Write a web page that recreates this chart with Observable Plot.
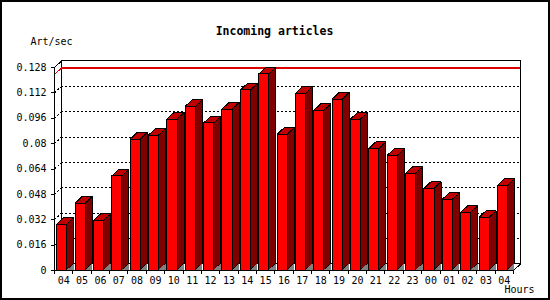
<!DOCTYPE html>
<html>
<head>
<meta charset="utf-8">
<script src="https://cdn.jsdelivr.net/npm/d3@7"></script>
<script src="https://cdn.jsdelivr.net/npm/@observablehq/plot@0.6"></script>
<style>
  html, body { margin: 0; padding: 0; background: #fff; }
</style>
</head>
<body>
<div id="chart"></div>
<script>
const title = "Incoming articles";
const yLabel = "Art/sec";
const xLabel = "Hours";
const hours = ["04","05","06","07","08","09","10","11","12","13","14","15","16","17","18","19","20","21","22","23","00","01","02","03","04"];
const values = [0.029,0.0422,0.0313,0.0593,0.0826,0.0851,0.0952,0.1032,0.0927,0.1015,0.1135,0.1236,0.0856,0.1114,0.1007,0.1078,0.0952,0.0767,0.0723,0.061,0.0515,0.0446,0.0364,0.0332,0.0534];
const yTicks = [0, 0.016, 0.032, 0.048, 0.064, 0.08, 0.096, 0.112, 0.128];
const yTickLabels = ["0", "0.016", "0.032", "0.048", "0.064", "0.08", "0.096", "0.112", "0.128"];

const W = 550, H = 300;
const mL = 54, mR = 37, mT = 67, mB = 30;
const n = hours.length;
const yMax = yTicks[yTicks.length - 1];
const pxPerX = (W - mL - mR) / n;
const pxPerY = (H - mT - mB) / yMax;
const DXd = 7 / pxPerX;      // depth in x data units
const DYd = 6.5 / pxPerY;    // depth in y data units
const FL = 0.15, FR = 0.70;  // front face offsets inside a category

const bars = values.map((v, i) => ({i, v, L: i + FL, R: i + FR}));
const sidePts = bars.flatMap(b => [
  {z: b.i, x: b.R, y1: 0, y2: b.v},
  {z: b.i, x: b.R + DXd, y1: DYd, y2: b.v + DYd}
]);
const topPts = bars.flatMap(b => [
  {z: b.i, y: b.v, x1: b.L, x2: b.R},
  {z: b.i, y: b.v + DYd, x1: b.L + DXd, x2: b.R + DXd}
]);
const floorPts = bars.flatMap(b => [
  {z: b.i, x: b.R, y1: 0, y2: 0},
  {z: b.i, x: b.R + DXd, y1: 0, y2: DYd}
]);
const maxV = d3.max(values);
const maxDiag = [{x1: 0, y1: maxV, x2: DXd, y2: maxV + DYd}];
const yLabelMap = new Map(yTicks.map((t, i) => [t, yTickLabels[i]]));
const boundaries = d3.range(n + 1);
const centers = hours.map((h, i) => i + 0.5);
const font = "DejaVu Sans Mono";

const chart = Plot.plot({
  width: W, height: H,
  marginLeft: mL, marginRight: mR, marginTop: mT, marginBottom: mB,
  style: {fontFamily: font, fontSize: "10px", background: "#fff", color: "#000",
          outline: "2px solid #000", outlineOffset: "-2px", shapeRendering: "crispEdges"},
  x: {type: "linear", domain: [0, n], axis: null},
  y: {type: "linear", domain: [0, yMax], axis: null},
  marks: [
    // back wall frame
    Plot.rect([0], {x1: DXd, x2: n + DXd, y1: DYd, y2: yMax + DYd, fill: "none", stroke: "#000"}),
    // dashed grid on back wall
    Plot.ruleY(yTicks.slice(1, -1), {x1: DXd, x2: n + DXd, y: d => d + DYd, stroke: "#000", strokeDasharray: "2,2"}),
    Plot.link(yTicks.slice(1, -1), {x1: 0, y1: d => d, x2: DXd, y2: d => d + DYd, stroke: "#000", strokeDasharray: "2,2"}),
    // max marker line
    Plot.ruleY([maxV], {x1: DXd, x2: n + DXd, y: d => d + DYd, stroke: "#e00000", strokeWidth: 1.5}),
    Plot.link(maxDiag, {x1: "x1", y1: "y1", x2: "x2", y2: "y2", stroke: "#e00000"}),
    // bars
    Plot.rect(bars, {x1: "L", x2: "R", y1: 0, y2: "v", fill: "#ff0000", stroke: "#000"}),
    Plot.areaY(sidePts, {x: "x", y1: "y1", y2: "y2", z: "z", fill: "#800000", stroke: "#000"}),
    Plot.areaX(topPts, {y: "y", x1: "x1", x2: "x2", z: "z", fill: "#c00000", stroke: "#000"}),
    Plot.areaY(floorPts, {x: "x", y1: "y1", y2: "y2", z: "z", fill: "#808080"}),
    // front axes
    Plot.ruleX([0], {y1: 0, y2: yMax, stroke: "#000"}),
    Plot.ruleY([0], {x1: 0, x2: n, stroke: "#000"}),
    Plot.link([0], {x1: 0, y1: yMax, x2: DXd, y2: yMax + DYd, stroke: "#000"}),
    Plot.link([0], {x1: n, y1: 0, x2: n + DXd, y2: DYd, stroke: "#000"}),
    Plot.axisY({ticks: yTicks, tickFormat: d => yLabelMap.get(d), tickSize: 3, tickPadding: 5, anchor: "left", fontSize: 10}),
    Plot.axisX({ticks: boundaries, tickFormat: () => "", tickSize: 4, anchor: "bottom"}),
    Plot.axisX({ticks: centers, tickFormat: d => hours[Math.floor(d)], tickSize: 0, tickPadding: 6, anchor: "bottom", fontSize: 10}),
    // texts
    Plot.text([title], {text: d => d, frameAnchor: "top", dx: -9.5, dy: -40.5, fontSize: 11.5, fontWeight: "bold", fontFamily: font, fill: "#000"}),
    Plot.text([yLabel], {text: d => d, frameAnchor: "top-left", textAnchor: "start", dx: -24, dy: -29.5, fontSize: 10, fontFamily: font, fill: "#000"}),
    Plot.text([xLabel], {text: d => d, frameAnchor: "bottom-right", textAnchor: "start", dx: -9, dy: 22.4, fontSize: 10, fontFamily: font, fill: "#000"})
  ]
});
document.getElementById("chart").appendChild(chart);
</script>
</body>
</html>
